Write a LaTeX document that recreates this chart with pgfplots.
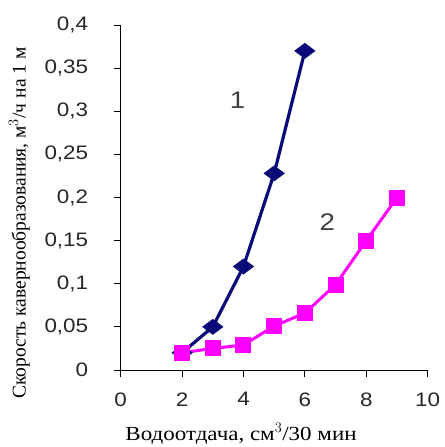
\documentclass[border=0pt]{standalone}
\usepackage{fontspec}
\setmainfont{Liberation Serif}
\newfontfamily\sansf[FakeStretch=1.15]{Liberation Sans}
\newfontfamily\serifx[FakeStretch=1.15]{Liberation Serif}
\usepackage{pgfplots}
\pgfplotsset{compat=1.18}
\definecolor{navy}{RGB}{10,10,120}
\definecolor{mag}{RGB}{255,0,255}
\begin{document}
\begin{tikzpicture}
\begin{axis}[
  scale only axis,
  width=307pt, height=345pt,
  xmin=0, xmax=10, ymin=0, ymax=0.4,
  axis lines=left,
  axis line style={-, line width=0.9pt},
  xtick={0,2,...,10},
  ytick={0,0.05,...,0.4},
  tick align=outside,
  major tick length=7pt,
  tick style={line width=0.9pt, black},
  /pgf/number format/assume math mode=true,
  /pgf/number format/use comma,
  /pgf/number format/fixed,
  /pgf/number format/precision=2,
  ticklabel style={font=\sansf\fontsize{19.5}{19.5}\selectfont, text=black!85},
  yticklabel style={xshift=-22pt},
  xticklabel style={yshift=-12pt},
  xlabel={Водоотдача, см$^3$/30 мин},
  ylabel={Скорость кавернообразования, м$^3$/ч на 1 м},
  xlabel style={font=\serifx\fontsize{20}{20}\selectfont, at={(axis description cs:0.392,-0.185)}, anchor=center},
  ylabel style={font=\fontsize{19.5}{19.5}\selectfont, at={(axis description cs:-0.33,0.426)}, anchor=center},
  clip=false,
]
\addplot[navy, line width=3.2pt, mark=diamond*, mark size=8pt, mark options={solid, fill=navy, rotate=90}]
  coordinates {(2,0.02) (3,0.05) (4,0.12) (5,0.228) (6,0.37)};
\addplot[mag, line width=3pt, mark=square*, mark size=6.5pt, mark options={solid, fill=mag}]
  coordinates {(2,0.02) (3,0.025) (4,0.029) (5,0.051) (6,0.066) (7,0.099) (8,0.15) (9,0.2)};
\node[font=\sansf\fontsize{24}{24}\selectfont, text=black!75] at (axis cs:3.81,0.313) {1};
\node[font=\sansf\fontsize{24}{24}\selectfont, text=black!75] at (axis cs:6.73,0.172) {2};
\coordinate (O) at (rel axis cs:0,0);
\coordinate (T) at (rel axis cs:1,1);
\end{axis}
\pgfresetboundingbox
\path[use as bounding box] ([xshift=-120.7pt,yshift=-77pt]O) rectangle ([xshift=17pt,yshift=25pt]T);
\end{tikzpicture}
\end{document}
